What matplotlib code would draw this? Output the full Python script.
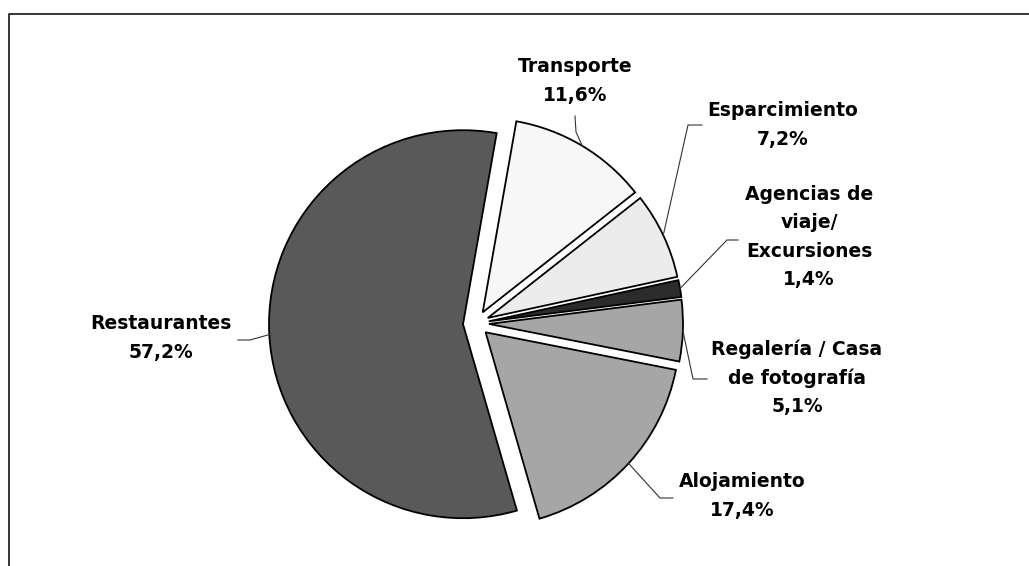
import numpy as np
import matplotlib
matplotlib.use('Agg')
import matplotlib.pyplot as plt

W, H = 1029, 566

categorias = ['Transporte', 'Esparcimiento', 'Agencias de\nviaje/\nExcursiones',
              'Regalería / Casa\nde fotografía', 'Alojamiento', 'Restaurantes']
valores = [11.6, 7.2, 1.4, 5.1, 17.4, 57.2]
etiquetas = ['11,6%', '7,2%', '1,4%', '5,1%', '17,4%', '57,2%']
colores = ['#f7f7f7', '#ececec', '#2b2b2b', '#a6a6a6', '#a6a6a6', '#595959']

# label layout in pixels (text centre, leader elbow, leader end)
texto_pos = [(575, 81), (783, 125), (809, 237), (797, 378), (742, 496), (161, 338)]
codo = [(576, 132), (688, 125), (727, 240), (693, 379), (660, 498), (250, 340)]
fin = [(575, 116), (702, 125), (738, 240), (707, 379), (673, 498), (238, 340)]

fig = plt.figure(figsize=(W / 100, H / 100), dpi=100)
ax = fig.add_axes([0, 0, 1, 1])

cx, cy, r = 476, H - 323.5, 194
wedges, _ = ax.pie(valores, colors=colores, startangle=80, counterclock=False,
                   center=(cx, cy), radius=r, explode=[13] * len(valores),
                   wedgeprops=dict(edgecolor='black', linewidth=1.3))

for w, cat, et, tp, cd, fn in zip(wedges, categorias, etiquetas, texto_pos, codo, fin):
    tm = np.deg2rad((w.theta1 + w.theta2) / 2)
    x0 = w.center[0] + r * np.cos(tm)
    y0 = w.center[1] + r * np.sin(tm)
    ax.plot([x0, cd[0], fn[0]], [y0, H - cd[1], H - fn[1]], color='#333333', lw=0.8)
    ax.text(tp[0], H - tp[1], cat + '\n' + et, ha='center', va='center',
            multialignment='center', fontsize=13.5, fontweight='bold',
            linespacing=1.62, color='black')

# chart border (left and top edges visible)
ax.plot([8.5, 8.5, W], [0, H - 13.5, H - 13.5], color='#262626', lw=1.3)

ax.set_xlim(0, W)
ax.set_ylim(0, H)
ax.set_aspect('equal')
ax.axis('off')
fig.savefig('out.png', dpi=100)
